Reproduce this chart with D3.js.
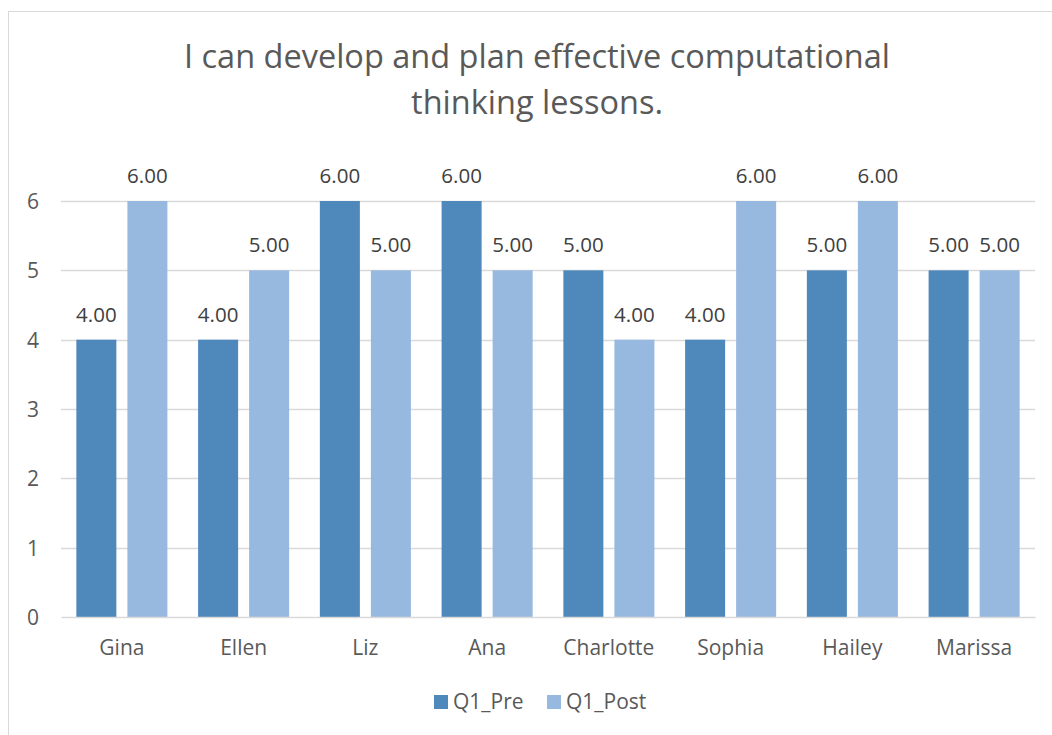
<!DOCTYPE html>
<html>
<head>
<meta charset="utf-8">
<script src="https://cdn.jsdelivr.net/npm/d3@7"></script>
<style>
  html, body { margin: 0; padding: 0; background: #fff; }
  svg text { font-family: "Open Sans", "Noto Sans", sans-serif; }
</style>
</head>
<body>
<svg id="chart" width="1052" height="735"></svg>
<script>
// Survey responses per participant
const names = ["Gina", "Ellen", "Liz", "Ana", "Charlotte", "Sophia", "Hailey", "Marissa"];
const preScores = [4, 4, 6, 6, 5, 4, 5, 5];
const postScores = [6, 5, 5, 5, 4, 6, 6, 5];
const seriesNames = ["Q1_Pre", "Q1_Post"];
const seriesColors = ["#4f88bb", "#97b9e0"];
const yTicks = [0, 1, 2, 3, 4, 5, 6];
const titleLines = ["I can develop and plan effective computational", "thinking lessons."];

const svg = d3.select("#chart");
const W = 1052, H = 735;

// Chart frame
svg.append("rect")
  .attr("x", 8.5).attr("y", 11.5)
  .attr("width", W + 20).attr("height", H + 20)
  .attr("fill", "#fff").attr("stroke", "#d9d9d9").attr("stroke-width", 1);

// Title
svg.append("g").selectAll("text")
  .data(titleLines)
  .join("text")
  .attr("x", 537)
  .attr("y", (d, i) => 68 + i * 46)
  .attr("text-anchor", "middle")
  .attr("font-size", 32.5)
  .attr("fill", "#595959")
  .text(d => d);

const plot = { left: 61, right: 1035, top: 201, bottom: 617 };

const y = d3.scaleLinear().domain([0, 6]).range([plot.bottom, plot.top]);
const x0 = d3.scaleBand().domain(names).range([plot.left, plot.right]).padding(0);
const x1 = d3.scaleBand().domain(seriesNames).range([0, x0.bandwidth()])
  .paddingInner(0.2157).paddingOuter(0.301);

// Gridlines
svg.append("g").selectAll("line")
  .data(yTicks.filter(t => t > 0))
  .join("line")
  .attr("x1", plot.left).attr("x2", plot.right)
  .attr("y1", d => Math.round(y(d)) + 0.5).attr("y2", d => Math.round(y(d)) + 0.5)
  .attr("stroke", "#d9d9d9").attr("stroke-width", 1.3);

// Y axis labels
const yAxis = svg.append("g")
  .attr("transform", `translate(${plot.left - 22},0)`)
  .call(d3.axisLeft(y).tickValues(yTicks).tickFormat(d3.format("d")).tickSize(0).tickPadding(0));
yAxis.select(".domain").remove();
yAxis.selectAll("text").attr("font-size", 21).attr("fill", "#595959").attr("dy", "0.35em");

// Bars
const rows = names.map((n, i) => ({ name: n, values: [preScores[i], postScores[i]] }));
const groups = svg.append("g").selectAll("g")
  .data(rows)
  .join("g")
  .attr("transform", d => `translate(${x0(d.name)},0)`);

groups.selectAll("rect")
  .data(d => d.values.map((v, j) => ({ key: seriesNames[j], value: v, idx: j })))
  .join("rect")
  .attr("x", d => x1(d.key))
  .attr("y", d => y(d.value))
  .attr("width", x1.bandwidth())
  .attr("height", d => y(0) - y(d.value))
  .attr("fill", d => seriesColors[d.idx]);

// Value labels
groups.selectAll("text")
  .data(d => d.values.map((v, j) => ({ key: seriesNames[j], value: v })))
  .join("text")
  .attr("x", d => x1(d.key) + x1.bandwidth() / 2)
  .attr("y", d => y(d.value) - 18)
  .attr("text-anchor", "middle")
  .attr("font-size", 20.5)
  .attr("fill", "#404040")
  .text(d => d3.format(".2f")(d.value));

// X axis
const xAxis = svg.append("g")
  .attr("transform", `translate(0,${plot.bottom})`)
  .call(d3.axisBottom(x0).tickSize(0).tickPadding(23));
xAxis.select(".domain").attr("stroke", "#d9d9d9").attr("stroke-width", 1.5);
xAxis.selectAll("text").attr("font-size", 21).attr("fill", "#595959");

// Legend
const legend = svg.append("g").attr("transform", "translate(434,695)");
const legendX = [0, 113];
seriesNames.forEach((s, i) => {
  const g = legend.append("g").attr("transform", `translate(${legendX[i]},0)`);
  g.append("rect").attr("width", 14).attr("height", 14).attr("fill", seriesColors[i]);
  g.append("text").attr("x", 19).attr("y", 7).attr("dy", "0.35em")
    .attr("font-size", 21).attr("fill", "#595959").text(s);
});
</script>
</body>
</html>
